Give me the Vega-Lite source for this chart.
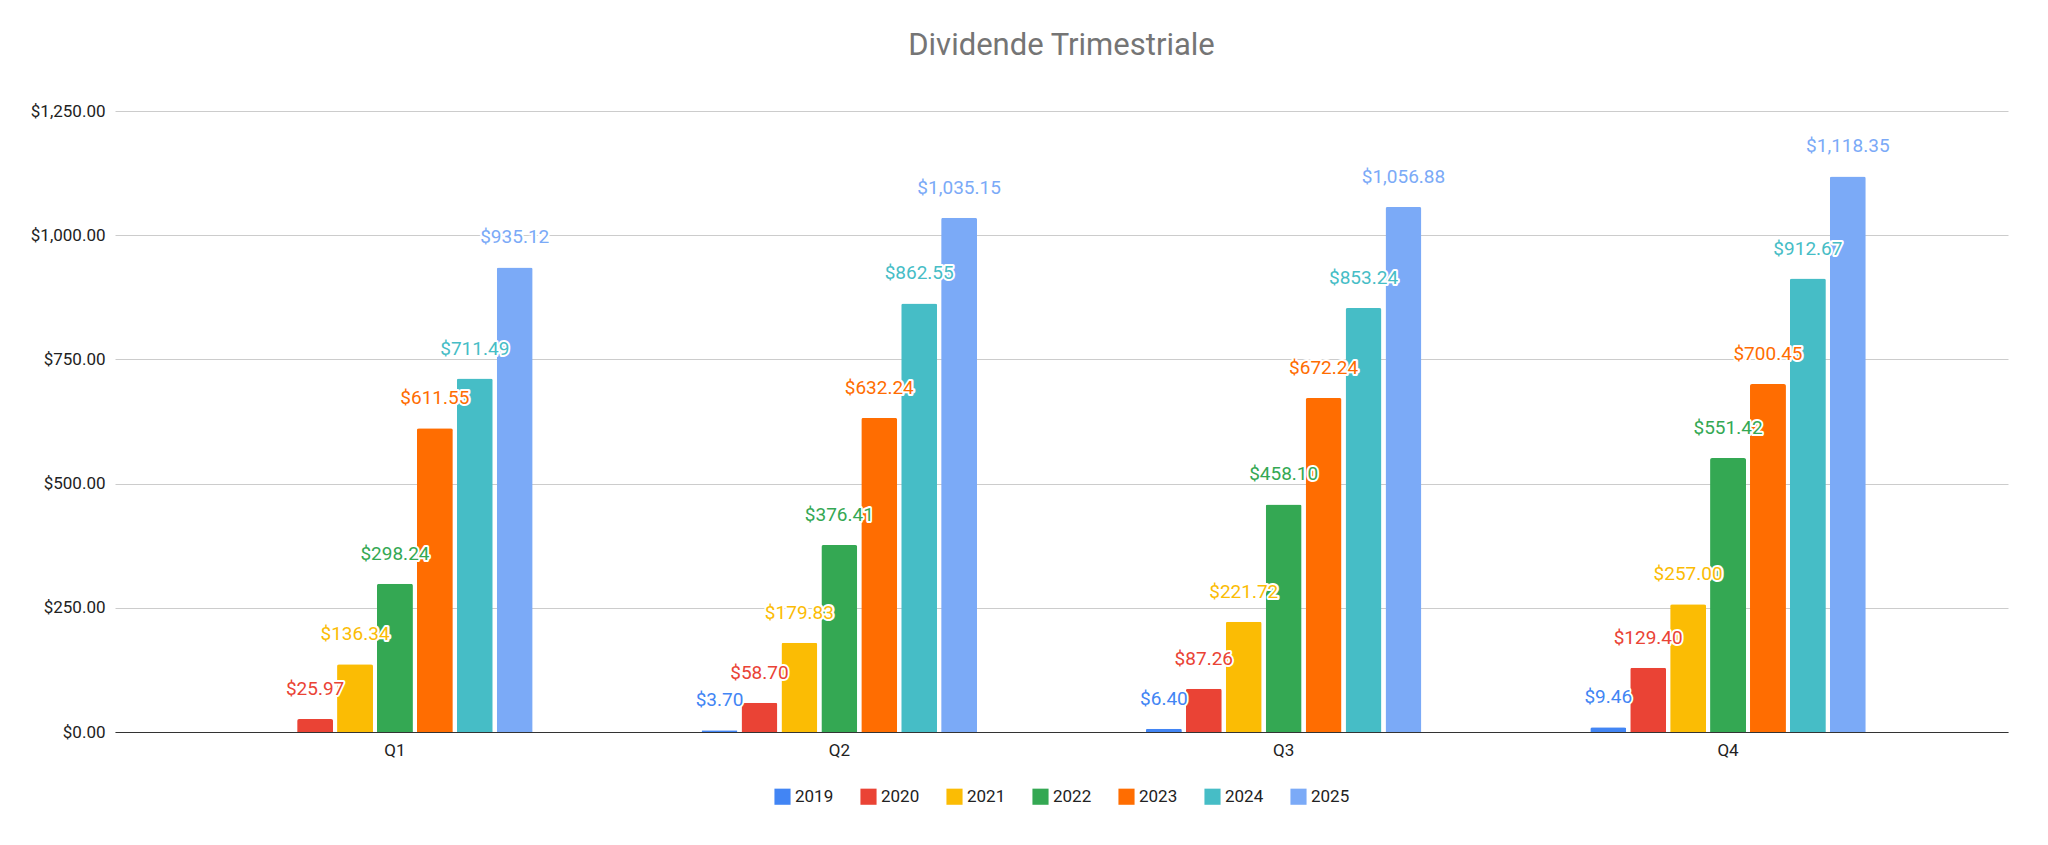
{
  "$schema": "https://vega.github.io/schema/vega-lite/v6.json",
  "width": 2048,
  "height": 845,
  "autosize": {"type": "fit", "contains": "padding"},
  "padding": {"left": 30, "right": 40, "top": 30, "bottom": 40},
  "background": "#ffffff",
  "title": {"text": "Dividende Trimestriale", "fontSize": 31, "font": "Roboto", "fontWeight": "normal", "color": "#757575", "offset": 40},
  "data": {
    "values": [
      {"q": "Q1", "year": "2020", "value": 25.97},
      {"q": "Q1", "year": "2021", "value": 136.34},
      {"q": "Q1", "year": "2022", "value": 298.24},
      {"q": "Q1", "year": "2023", "value": 611.55},
      {"q": "Q1", "year": "2024", "value": 711.49},
      {"q": "Q1", "year": "2025", "value": 935.12},
      {"q": "Q2", "year": "2019", "value": 3.70},
      {"q": "Q2", "year": "2020", "value": 58.70},
      {"q": "Q2", "year": "2021", "value": 179.83},
      {"q": "Q2", "year": "2022", "value": 376.41},
      {"q": "Q2", "year": "2023", "value": 632.24},
      {"q": "Q2", "year": "2024", "value": 862.55},
      {"q": "Q2", "year": "2025", "value": 1035.15},
      {"q": "Q3", "year": "2019", "value": 6.40},
      {"q": "Q3", "year": "2020", "value": 87.26},
      {"q": "Q3", "year": "2021", "value": 221.72},
      {"q": "Q3", "year": "2022", "value": 458.10},
      {"q": "Q3", "year": "2023", "value": 672.24},
      {"q": "Q3", "year": "2024", "value": 853.24},
      {"q": "Q3", "year": "2025", "value": 1056.88},
      {"q": "Q4", "year": "2019", "value": 9.46},
      {"q": "Q4", "year": "2020", "value": 129.40},
      {"q": "Q4", "year": "2021", "value": 257.00},
      {"q": "Q4", "year": "2022", "value": 551.42},
      {"q": "Q4", "year": "2023", "value": 700.45},
      {"q": "Q4", "year": "2024", "value": 912.67},
      {"q": "Q4", "year": "2025", "value": 1118.35}
    ]
  },
  "encoding": {
    "x": {
      "field": "q", "type": "nominal", "title": null,
      "scale": {"paddingInner": 0.38, "paddingOuter": 0.32},
      "axis": {"labelAngle": 0, "labelFontSize": 17, "labelFont": "Roboto", "labelColor": "#222", "domainColor": "#333", "ticks": false, "labelPadding": 10}
    },
    "xOffset": {
      "field": "year", "type": "nominal",
      "scale": {"domain": ["2019", "2020", "2021", "2022", "2023", "2024", "2025"], "paddingInner": 0.1}
    },
    "y": {
      "field": "value", "type": "quantitative", "title": null,
      "scale": {"domain": [0, 1250]},
      "axis": {"values": [0, 250, 500, 750, 1000, 1250], "format": "$,.2f", "labelFontSize": 17, "labelFont": "Roboto", "labelColor": "#222", "domain": false, "ticks": false, "gridColor": "#cccccc", "labelPadding": 10}
    },
    "color": {
      "field": "year", "type": "nominal", "title": null,
      "scale": {
        "domain": ["2019", "2020", "2021", "2022", "2023", "2024", "2025"],
        "range": ["#4285F4", "#EA4335", "#FBBC04", "#34A853", "#FF6D01", "#46BDC6", "#7BAAF7"]
      },
      "legend": {"orient": "bottom", "direction": "horizontal", "symbolType": "square", "symbolSize": 260, "symbolStrokeWidth": 0, "labelFontSize": 17, "labelFont": "Roboto", "labelColor": "#222", "columnPadding": 26, "offset": 30}
    }
  },
  "layer": [
    {"mark": {"type": "bar", "cornerRadiusTopLeft": 2, "cornerRadiusTopRight": 2}},
    {
      "mark": {"type": "text", "dy": -30, "fontSize": 19, "font": "Roboto", "stroke": "white", "strokeWidth": 4, "strokeJoin": "round"},
      "encoding": {"text": {"field": "value", "type": "quantitative", "format": "$,.2f"}}
    },
    {
      "mark": {"type": "text", "dy": -30, "fontSize": 19, "font": "Roboto"},
      "encoding": {"text": {"field": "value", "type": "quantitative", "format": "$,.2f"}}
    }
  ],
  "config": {"view": {"stroke": null}, "legend": {"layout": {"bottom": {"anchor": "middle"}}}}
}
